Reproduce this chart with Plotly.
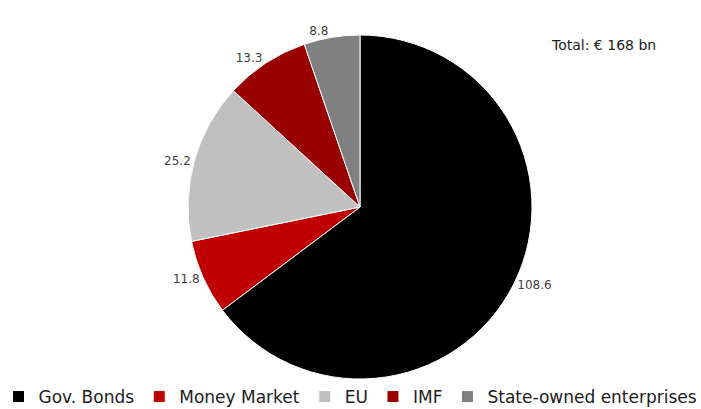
import plotly.graph_objects as go

# Funding sources, € bn
categories = ["Gov. Bonds", "Money Market", "EU", "IMF", "State-owned enterprises"]
values = [108.6, 11.8, 25.2, 13.3, 8.8]
colors = ["#000000", "#c00000", "#c0c0c0", "#990000", "#808080"]
total_label = "Total: € 168 bn"

W, H = 701, 409
FONT = "DejaVu Sans, Liberation Sans, Arial"

fig = go.Figure(
    go.Pie(
        labels=categories,
        values=values,
        sort=False,
        direction="clockwise",
        rotation=0,
        marker=dict(colors=colors, line=dict(color="#ffffff", width=1)),
        texttemplate="%{value:.1f}",
        textposition="outside",
        textfont=dict(family=FONT, size=12, color="#404040"),
        hoverinfo="label+value",
        domain=dict(x=[188 / W, 532 / W], y=[1 - 379 / H, 1 - 35 / H]),
        automargin=False,
    )
)

fig.add_annotation(
    text=total_label,
    x=549 / W, y=1 - 45 / H, xref="paper", yref="paper",
    xanchor="left", yanchor="middle", showarrow=False,
    font=dict(family=FONT, size=14, color="#202020"),
)

fig.update_layout(
    width=W, height=H,
    margin=dict(l=0, r=0, t=0, b=0, autoexpand=False),
    paper_bgcolor="white",
    plot_bgcolor="white",
    showlegend=True,
    legend=dict(
        orientation="h",
        x=0.5, xanchor="center",
        y=1 - 397 / H, yanchor="middle",
        font=dict(family=FONT, size=17, color="#202020"),
        itemwidth=30,
        tracegroupgap=0,
        bgcolor="rgba(0,0,0,0)",
    ),
    font=dict(family=FONT),
)

fig.write_html("out.html")
